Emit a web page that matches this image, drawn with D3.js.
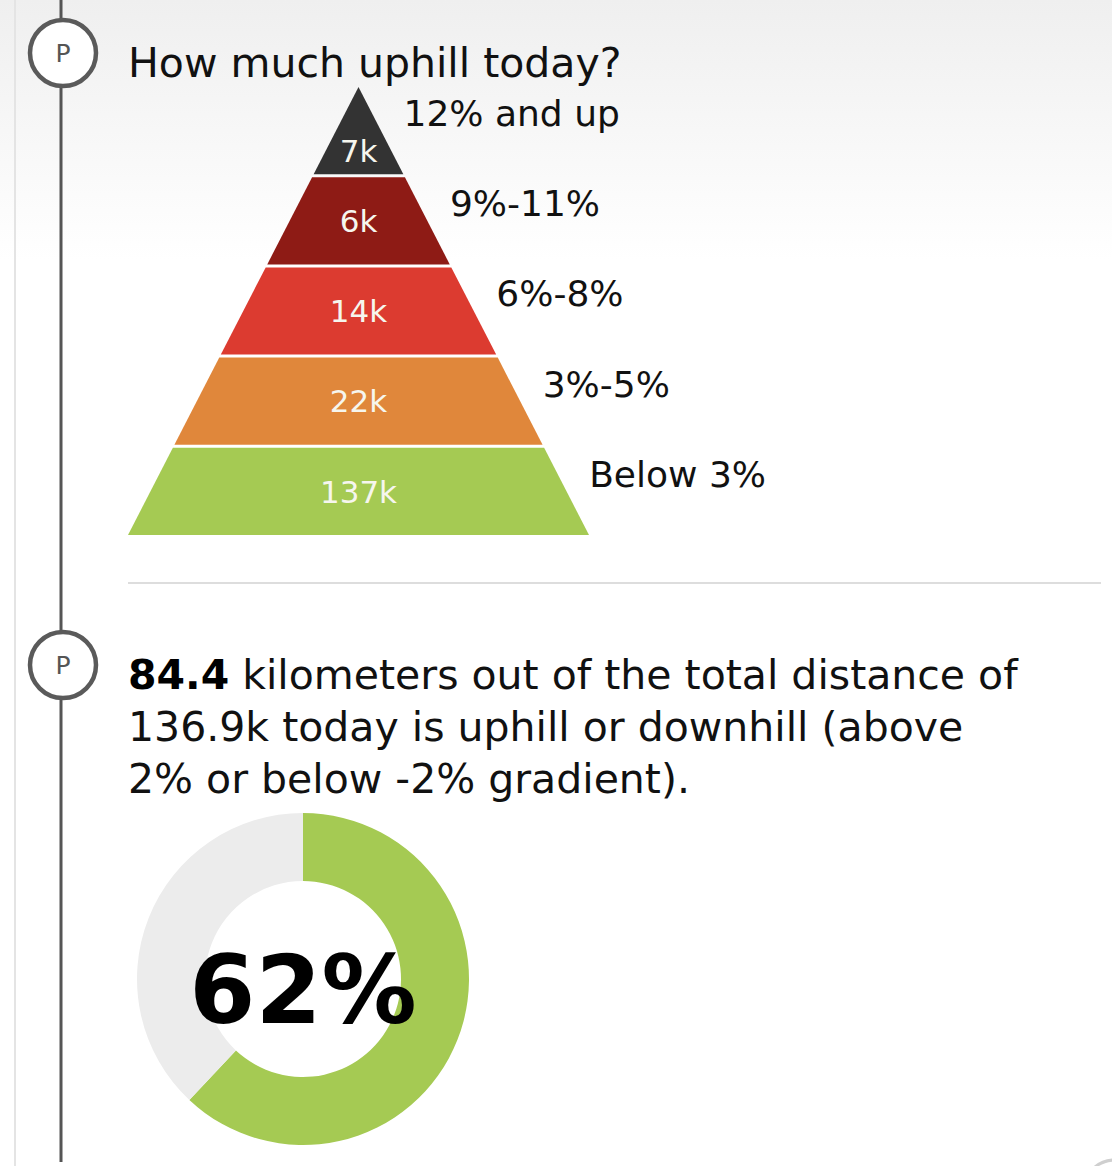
<!DOCTYPE html>
<html>
<head>
<meta charset="utf-8">
<script src="https://cdn.jsdelivr.net/npm/d3@7"></script>
<style>
  body { margin: 0; background: #fff; }
  svg { display: block; font-family: "DejaVu Sans", Verdana, sans-serif; }
</style>
</head>
<body>
<div class="content"></div>
<script>
// uphill pyramid, top band first
var grades = ['12% and up', '9%-11%', '6%-8%', '3%-5%', 'Below 3%'];
var gradeKm = [7, 6, 14, 22, 137];
var gradeColors = ['#333333', '#8e1b15', '#dc3b30', '#e0873b', '#a5ca53'];

// donut
var hillyKm = 84.4;
var totalKm = '136.9k';
var hillyShare = 62;
var textLines = [
  [{ t: hillyKm + '', b: true }, { t: ' kilometers out of the total distance of' }],
  [{ t: totalKm + ' today is uphill or downhill (above' }],
  [{ t: '2% or below -2% gradient).' }]
];

var width = 1112, height = 1166;
var fmtK = function (v) { return v + 'k'; };

var svg = d3.select('.content').append('svg')
  .attr('width', width)
  .attr('height', height);

var defs = svg.append('defs');
var bg = defs.append('linearGradient')
  .attr('id', 'bgFade')
  .attr('x1', '0%').attr('y1', '0%')
  .attr('x2', '0%').attr('y2', '100%');
bg.append('stop').attr('offset', '0%').style('stop-color', '#efefef');
bg.append('stop').attr('offset', '100%').style('stop-color', '#ffffff');

svg.append('rect')
  .attr('width', width).attr('height', 260)
  .attr('fill', 'url(#bgFade)');

// side rails
svg.append('line')
  .attr('x1', 15).attr('x2', 15).attr('y1', 0).attr('y2', height)
  .attr('stroke', '#e4e4e4').attr('stroke-width', 2);
svg.append('line')
  .attr('x1', 61).attr('x2', 61).attr('y1', 0).attr('y2', 1162)
  .attr('stroke', '#555').attr('stroke-width', 3);

function marker(cy) {
  var g = svg.append('g').attr('transform', 'translate(63,' + cy + ')');
  g.append('circle').attr('r', 33)
    .attr('fill', '#fff').attr('stroke', '#5a5a5a').attr('stroke-width', 4.5);
  g.append('text').text('P')
    .attr('text-anchor', 'middle').attr('dy', '.36em')
    .attr('font-size', 25).attr('fill', '#555');
}
marker(53);
marker(665);

// faint next marker peeking at the bottom
svg.append('circle')
  .attr('cx', 1115).attr('cy', 1192).attr('r', 32)
  .attr('fill', 'none').attr('stroke', '#cfcfcf').attr('stroke-width', 3);

// ---- pyramid ----
svg.append('text')
  .attr('x', 128).attr('y', 77)
  .attr('font-size', 41).attr('fill', '#111')
  .text('How much uphill today?');

var cx = 358.5, pyrTop = 87, pyrBottom = 535, gap = 3;
var y = d3.scaleLinear().domain([0, grades.length]).range([pyrTop, pyrBottom + gap]);
var halfW = d3.scaleLinear().domain([pyrTop, pyrBottom]).range([0, 230.5]);

var bands = grades.map(function (g, i) {
  return { grade: g, km: gradeKm[i], color: gradeColors[i], y0: y(i), y1: y(i + 1) - gap, i: i };
});

var band = svg.selectAll('.band')
  .data(bands)
  .enter().append('g')
  .attr('class', 'band');

band.append('path')
  .attr('d', function (d) {
    return 'M' + (cx - halfW(d.y0)) + ',' + d.y0 +
      'L' + (cx + halfW(d.y0)) + ',' + d.y0 +
      'L' + (cx + halfW(d.y1)) + ',' + d.y1 +
      'L' + (cx - halfW(d.y1)) + ',' + d.y1 + 'Z';
  })
  .attr('fill', function (d) { return d.color; });

band.append('text')
  .attr('x', cx)
  .attr('y', function (d) {
    return d.i === 0 ? d.y0 + (d.y1 - d.y0) * 0.73 : (d.y0 + d.y1) / 2;
  })
  .attr('dy', '.36em')
  .attr('text-anchor', 'middle')
  .attr('font-size', 31)
  .attr('fill', '#f6f6ee')
  .text(function (d) { return fmtK(d.km); });

band.append('text')
  .attr('x', function (d) { return cx + halfW(d.y0) + 45; })
  .attr('y', function (d) { return d.y0 + 26; })
  .attr('dy', '.36em')
  .attr('font-size', 36)
  .attr('fill', '#111')
  .text(function (d) { return d.grade; });

// divider
svg.append('line')
  .attr('x1', 128).attr('x2', 1101).attr('y1', 583).attr('y2', 583)
  .attr('stroke', '#dddddd').attr('stroke-width', 2);

// ---- share of hilly distance ----
var para = svg.append('text')
  .attr('font-size', 41).attr('fill', '#111');
textLines.forEach(function (line, i) {
  line.forEach(function (part, j) {
    var ts = para.append('tspan').text(part.t);
    if (j === 0) ts.attr('x', 128).attr('y', 689 + i * 52);
    if (part.b) ts.attr('font-weight', 'bold').attr('fill', '#000');
  });
});

var arc = d3.arc().innerRadius(98).outerRadius(166);
var pie = d3.pie().sort(null).value(function (d) { return d.v; });
var slices = pie([
  { v: hillyShare, c: '#a5ca53' },
  { v: 100 - hillyShare, c: '#ececec' }
]);

var donut = svg.append('g').attr('transform', 'translate(303,979)');
donut.selectAll('path')
  .data(slices)
  .enter().append('path')
  .attr('d', arc)
  .attr('fill', function (d) { return d.data.c; });

donut.append('text')
  .attr('text-anchor', 'middle')
  .attr('y', 44)
  .attr('font-size', 95)
  .attr('font-weight', 'bold')
  .attr('fill', '#000')
  .text(d3.format('d')(hillyShare) + '%');
</script>
</body>
</html>
